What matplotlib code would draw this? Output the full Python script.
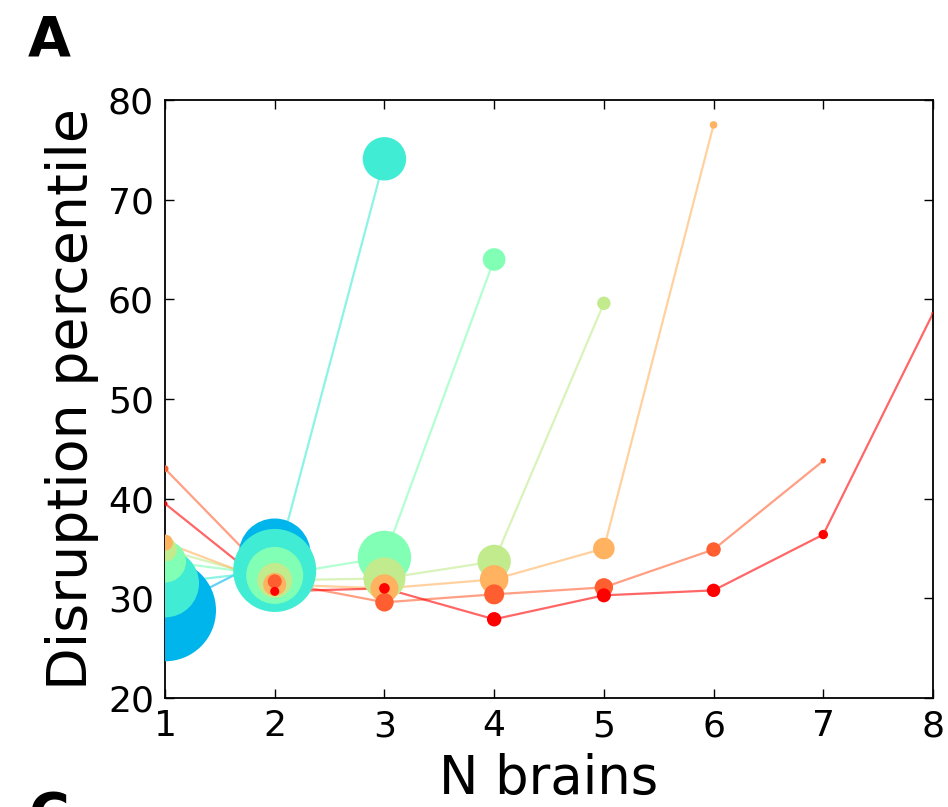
import matplotlib
matplotlib.use('Agg')
import matplotlib.pyplot as plt
import numpy as np

# disruption percentile vs number of brains, one series per total brain count
n_total = [2, 3, 4, 5, 6, 7, 8]

y_2 = [28.8, 34.4]
y_3 = [31.5, 32.8, 74.1]
y_4 = [33.7, 32.3, 34.1, 64.0]
y_5 = [34.9, 31.8, 32.0, 33.7, 59.6]
y_6 = [35.6, 31.4, 31.0, 31.9, 35.0, 77.5]
y_7 = [43.0, 31.7, 29.6, 30.4, 31.1, 34.9, 43.8]
y_8 = [39.5, 30.7, 31.0, 27.9, 30.3, 30.8, 36.4, 58.6]

# marker radius (px) for each point
r_2 = [51, 36]
r_3 = [34, 41.5, 21.7]
r_4 = [21, 28.5, 26.7, 11.3]
r_5 = [12, 17.5, 21, 16.7, 6.7]
r_6 = [8, 11.5, 14, 14.3, 10.8, 3.8]
r_7 = [3.5, 7, 9.2, 10, 9.2, 7.2, 2.7]
r_8 = [2.5, 4.5, 5.3, 7.2, 7, 6.7, 4.7, 1.5]

ys = [y_2, y_3, y_4, y_5, y_6, y_7, y_8]
rs = [r_2, r_3, r_4, r_5, r_6, r_7, r_8]

dpi = 100
fig = plt.figure(figsize=(9.48, 8.07), dpi=dpi)
ax = fig.add_axes([165/948, 1-698/807, (933-165)/948, (698-100)/807])

colors = [plt.cm.rainbow(n / 8.0) for n in n_total]

# lines first, then markers on top
for n, y, c in zip(n_total, ys, colors):
    x = np.arange(1, n + 1)
    ax.plot(x, y, '-', color=c, alpha=0.6, lw=1.6, zorder=2)

for n, y, r, c in zip(n_total, ys, rs, colors):
    x = np.arange(1, n + 1)
    s = (2 * np.array(r) * 72.0 / dpi) ** 2
    ax.scatter(x, y, s=s, color=c, edgecolors='none', zorder=3)

ax.set_xlim(1, 8)
ax.set_ylim(20, 80)
ax.set_xticks(range(1, 9))
ax.set_yticks(range(20, 81, 10))
ax.tick_params(direction='in', top=True, right=True, length=6.5, width=1,
               labelsize=26, pad=8)
for sp in ax.spines.values():
    sp.set_linewidth(1.3)

ax.set_xlabel('N brains', fontsize=38, labelpad=7)
ax.set_ylabel('Disruption percentile', fontsize=40, labelpad=6)

fig.text(28/948, 1-55/807, 'A', fontsize=40, fontweight='heavy', va='baseline')
fig.text(28/948, 1-832/807, 'C', fontsize=40, fontweight='heavy', va='baseline')

plt.savefig('out.png', dpi=dpi)
